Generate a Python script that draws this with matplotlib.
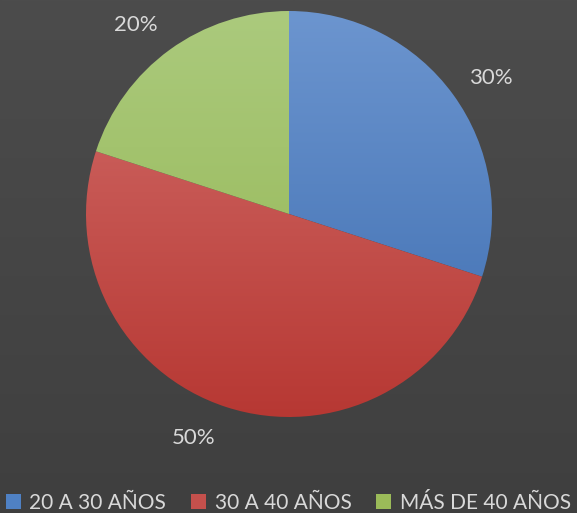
import numpy as np
import matplotlib.pyplot as plt
from matplotlib.colors import LinearSegmentedColormap
from matplotlib.patches import Patch

categorias = ["20 A 30 AÑOS", "30 A 40 AÑOS", "MÁS DE 40 AÑOS"]
valores = [30, 50, 20]
# colores (arriba, abajo) de cada gradiente
colores = [("#6c95cf", "#3d6db0"), ("#d26e6b", "#b73833"), ("#abca7d", "#93b550")]
color_leyenda = ["#4f81c4", "#c4504c", "#9bbb59"]
texto = "#d9d9d9"

plt.rcParams['font.family'] = ['Lato', 'DejaVu Sans']

W, H = 577, 513
fig = plt.figure(figsize=(W/100, H/100), dpi=100)

# fondo con gradiente
bg = fig.add_axes([0, 0, 1, 1])
bg.imshow(np.linspace(0, 1, 256).reshape(-1, 1), aspect='auto', extent=[0, 1, 0, 1],
          cmap=LinearSegmentedColormap.from_list("bg", ["#4c4c4c", "#3f3f3f"]))
bg.axis('off')

cx, cy, R = 289, 214, 203
ax = fig.add_axes([(cx-R)/W, (H-cy-R)/H, 2*R/W, 2*R/H])
wedges, labels, pcts = ax.pie(valores, startangle=90, counterclock=False, radius=1,
                              autopct='%1.0f%%', pctdistance=1.2,
                              textprops=dict(color=texto, fontsize=16))
# pequeños ajustes de angulo como en Excel
ajuste = [-2, -5, 3]
for w, t, d in zip(wedges, pcts, ajuste):
    a = np.deg2rad((w.theta1 + w.theta2) / 2 + d)
    t.set_position((1.2*np.cos(a), 1.2*np.sin(a)))

grad = np.linspace(0, 1, 256).reshape(-1, 1)
for w, (c1, c2) in zip(wedges, colores):
    w.set_facecolor('none')
    w.set_edgecolor('none')
    cm = LinearSegmentedColormap.from_list("g", [c1, c2])
    im = ax.imshow(grad, aspect='auto', extent=[-1, 1, -1, 1], cmap=cm, zorder=0)
    im.set_clip_path(w)
ax.set_xlim(-1, 1)
ax.set_ylim(-1, 1)
ax.axis('off')

handles = [Patch(facecolor=c, edgecolor='none') for c in color_leyenda]
fig.legend(handles, categorias, loc='center', bbox_to_anchor=(0.5, 1-503/H), ncol=3,
           frameon=False, fontsize=15, labelcolor=texto, handlelength=0.72, handleheight=0.72,
           handletextpad=0.4, columnspacing=1.2, borderpad=0.1, borderaxespad=0)

fig.savefig("out.png", dpi=100, facecolor="#474747")
